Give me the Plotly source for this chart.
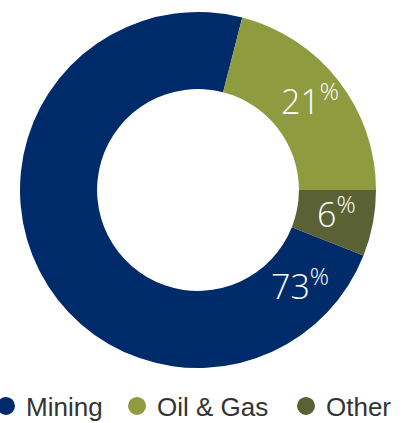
import math
import plotly.graph_objects as go

# Sector split of revenue (percent)
sectors = ["Mining", "Oil & Gas", "Other"]
shares = [73, 21, 6]
colors = ["#002b6b", "#8e9b3f", "#5a6134"]

# Where each share label sits along its slice (fraction of the slice's sweep)
label_pos = [0.085, 0.5, 0.5]
start_angle = 111.6               # clockwise from 12 o'clock, first slice start

W, H = 410, 423
cx, cy, R = 198, 190, 178
hole = 0.567

fig = go.Figure()
fig.add_trace(go.Pie(
    labels=sectors, values=shares, sort=False, direction="clockwise",
    rotation=start_angle, hole=hole, marker=dict(colors=colors, line=dict(width=0)),
    textinfo="none", hoverinfo="label+percent", showlegend=False,
    domain=dict(x=[(cx - R) / W, (cx + R) / W], y=[(H - cy - R) / H, (H - cy + R) / H]),
))

# Percentage labels placed inside the ring
total = sum(shares)
acc = 0.0
r_lab = R * (1 + hole) / 2 + 2
for name, v, f in zip(sectors, shares, label_pos):
    a0 = start_angle + 360 * acc / total
    ang = math.radians(a0 + 360 * v / total * f)
    px = cx + r_lab * math.sin(ang)
    py = cy - r_lab * math.cos(ang)
    fig.add_annotation(
        x=px / W, y=1 - (py - 4) / H, xref="paper", yref="paper",
        text=f"{v}<sup>%</sup>", showarrow=False, xanchor="center", yanchor="middle",
        font=dict(family="Open Sans", size=34, color="white", weight=300),
    )
    acc += v

# Legend entries as round markers, one legend each for exact spacing
legend_x = [-14, 117, 286]
for i, (name, col) in enumerate(zip(sectors, colors)):
    lid = "legend" if i == 0 else f"legend{i + 1}"
    fig.add_trace(go.Scatter(
        x=[None], y=[None], mode="markers", name=name, legend=lid,
        marker=dict(symbol="circle", size=16, color=col, line=dict(color=col, width=2)),
    ))
    fig.update_layout(**{lid: dict(
        x=legend_x[i] / W, y=(H - 406) / H, xanchor="left", yanchor="middle",
        orientation="h", bgcolor="rgba(0,0,0,0)",
        font=dict(family="Liberation Sans", size=26, color="#333333"),
    )})

fig.update_layout(
    width=W, height=H, margin=dict(l=0, r=0, t=0, b=0, autoexpand=False),
    paper_bgcolor="white", plot_bgcolor="white",
    xaxis=dict(visible=False), yaxis=dict(visible=False),
)
fig.write_html("out.html")
